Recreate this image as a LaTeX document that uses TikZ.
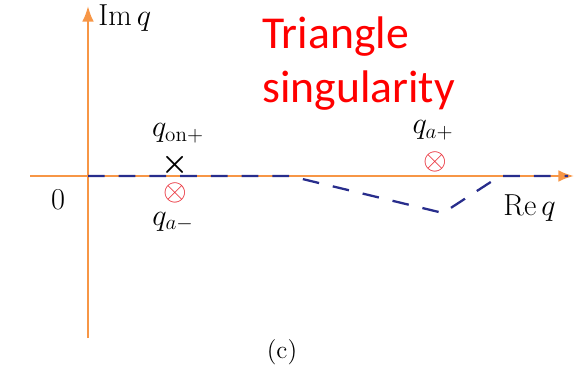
\documentclass[tikz,border=0pt]{standalone}
\usepackage{amsmath}
\usepackage{fontspec}
\newfontfamily\calib{Carlito}
\usetikzlibrary{arrows.meta,positioning,calc}
\definecolor{axisorange}{RGB}{247,150,70}
\definecolor{pathnavy}{RGB}{40,45,140}
\definecolor{polered}{RGB}{232,40,50}

\begin{document}
\begin{tikzpicture}[
    x=0.02cm, y=-0.02cm,
    >=Latex,
    axis/.style={draw=axisorange, line width=1.3pt},
    contour/.style={draw=pathnavy, line width=1.3pt, dash pattern=on 9.5pt off 8pt},
    lab/.style={font=\LARGE, inner sep=0pt},
    pole/.style={text=polered, font=\LARGE, inner sep=0pt},
]
\useasboundingbox (0,0) rectangle (575,385);

% axes
\coordinate (xl) at (30,176);
\coordinate (xr) at (574,176);
\coordinate (yb) at (88,338);
\coordinate (yt) at (88,6);
\draw[axis,->] (xl) -- (xr);
\draw[axis,->] (yb) -- (yt);

% deformed contour
\coordinate (o) at (88,176);
\coordinate (c1) at (290,176);
\coordinate (c2) at (443,213);
\coordinate (c3) at (500,176);
\coordinate (c4) at (568,176);
\draw[contour] (o) -- (c1) -- (c2) -- (c3) -- (c4);

% labels
\node[lab, anchor=west] (im) at (98,18) {$\operatorname{Im} q$};
\node[lab, anchor=west] (re) at (503,208) {$\operatorname{Re} q$};
\node[lab] (zero) at (58,200) {$0$};
\node[lab, font=\Large] (cap) at (282,352) {(c)};

% singularities
\node[font=\LARGE, inner sep=0pt] (on) at (175,165) {$\boldsymbol{\times}$};
\node[lab] (qon) at (178,133) {$q_{\text{on}+}$};
\node[pole] (am) at (175,193) {$\otimes$};
\node[lab] (qam) at (173,222) {$q_{a-}$};
\node[pole] (ap) at (435,162) {$\otimes$};
\node[lab] (qap) at (433,130) {$q_{a+}$};

\node[text=red, font=\calib\fontsize{26}{31}\selectfont, align=left, inner sep=0pt, anchor=north west] (tri) at (262,16) {Triangle\\singularity};

\end{tikzpicture}
\end{document}
